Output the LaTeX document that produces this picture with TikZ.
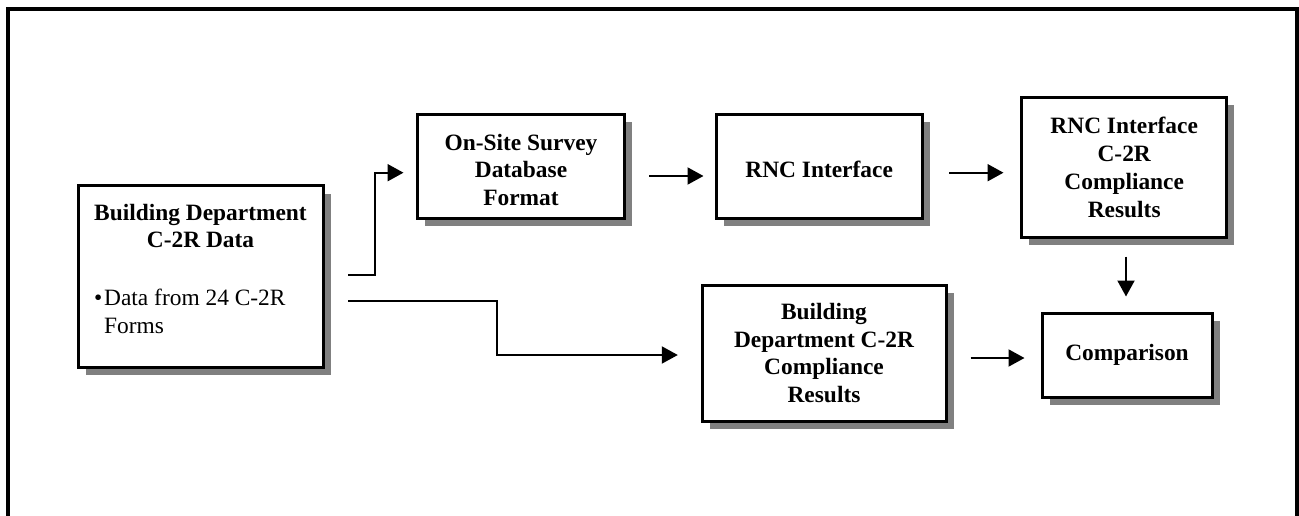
\documentclass[tikz,border=0pt]{standalone}
\usepackage{fontspec}
\setmainfont{Liberation Serif}
\usetikzlibrary{shadows,calc,arrows.meta}
\definecolor{shadowgray}{HTML}{808080}
\newcommand\mydn{\rule{0pt}{23pt}}
\begin{document}
\begin{tikzpicture}[x=1pt,y=-1pt,
  box/.style={draw, line width=3pt, fill=white, inner sep=2pt, align=center,
    font=\fontsize{23.4pt}{27.8pt}\selectfont\bfseries,
    drop shadow={shadow xshift=7.5pt, shadow yshift=-7.5pt, fill=shadowgray, opacity=1}},
  conn/.style={line width=2pt, -{Triangle[length=16pt,width=17pt]}},
  txt/.style={inner sep=0pt, font=\fontsize{23.4pt}{27.8pt}\selectfont}]
\useasboundingbox (0,0) rectangle (1299,516);
% outer frame (open at bottom)
\draw[line width=4pt] (8,516) -- (8,9) -- (1296.5,9) -- (1296.5,516);
% boxes
\node[box, minimum width=245pt, minimum height=181pt] (A) at (200.5,276.5) {};
\node[txt, font=\fontsize{23.4pt}{27.8pt}\selectfont\bfseries, align=center] (At) at (200.5,226) {Building Department\\C-2R Data};
\node[txt, align=left, anchor=west] (Ab) at (94,311) {\makebox[10pt][l]{•}Data from 24 C-2R\\\hspace*{10pt}Forms};
\node[box, minimum width=206.6pt, minimum height=103pt] (B) at (521,166.5) {\mydn On-Site Survey\\Database\\Format};
\node[box, minimum width=206.3pt, minimum height=103pt] (C) at (819.15,166.5) {\mydn RNC Interface};
\node[box, minimum width=205pt, minimum height=139pt] (E) at (1124.2,167.5) {RNC Interface\\C-2R\\Compliance\\Results};
\node[box, minimum width=244pt, minimum height=136pt] (D) at (824,353) {Building\\Department C-2R\\Compliance\\Results};
\node[box, minimum width=170pt, minimum height=84pt] (F) at (1127,355) {Comparison};
% connectors
\draw[conn] ($(A.east)+(23.7,-1.5)$) -- ++(26.3,0) |- ($(B.west)+(-12.7,6.2)$);
\draw[conn] ($(A.east)+(23.7,24.2)$) -- ++(149,0) |- ($(D.west)+(-22.7,2)$);
\draw[conn] ($(B.east)+(23.4,9.5)$) -- ($(C.west)+(-11,9.5)$);
\draw[conn] ($(C.east)+(25.4,6.2)$) -- ($(E.west)+(-16.7,5.2)$);
\draw[conn] ($(E.south)+(1.8,18)$) -- ($(F.north)+(-1,-15)$);
\draw[conn] ($(D.east)+(23,5)$) -- ($(F.west)+(-16,3)$);
\end{tikzpicture}
\end{document}
